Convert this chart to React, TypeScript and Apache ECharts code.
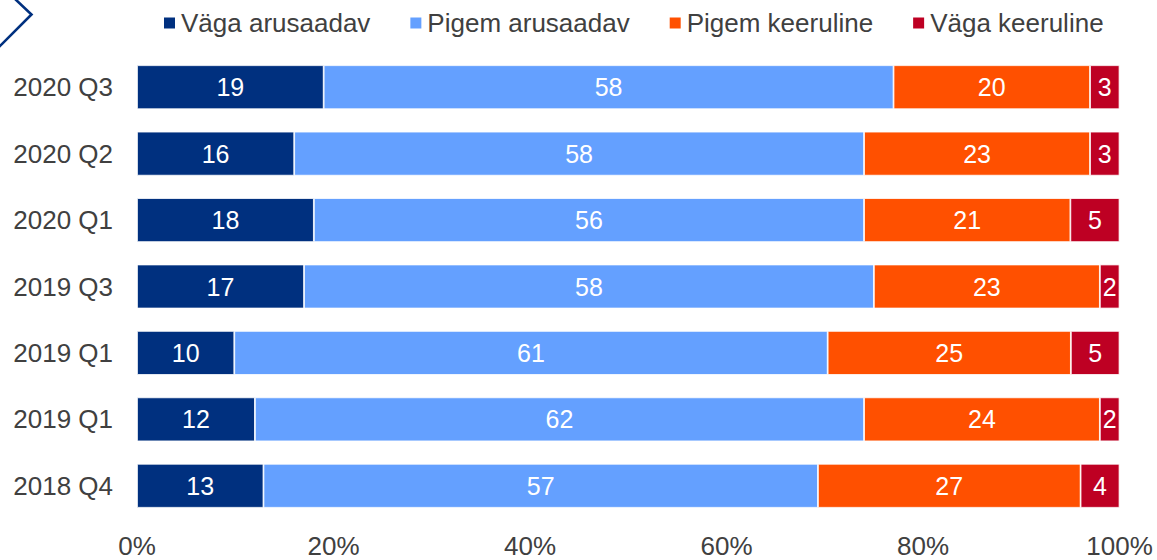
import React, { useEffect, useRef } from "react";
import * as echarts from "echarts";

const categories = ["2020 Q3", "2020 Q2", "2020 Q1", "2019 Q3", "2019 Q1", "2019 Q1", "2018 Q4"];
const seriesNames = ["Väga arusaadav", "Pigem arusaadav", "Pigem keeruline", "Väga keeruline"];
const vagaArusaadav = [19, 16, 18, 17, 10, 12, 13];
const pigemArusaadav = [58, 58, 56, 58, 61, 62, 57];
const pigemKeeruline = [20, 23, 21, 23, 25, 24, 27];
const vagaKeeruline = [3, 3, 5, 2, 5, 2, 4];
const xTicks = [0, 20, 40, 60, 80, 100];
const colors = ["#00307F", "#64A0FF", "#FF5000", "#BE0023"];

const FONT = "'Liberation Sans', Arial, sans-serif";

export default function App() {
  const ref = useRef<HTMLDivElement>(null);
  useEffect(() => {
    if (!ref.current) return;
    const chart = echarts.init(ref.current, undefined, { renderer: "svg" });
    const raw = [vagaArusaadav, pigemArusaadav, pigemKeeruline, vagaKeeruline];
    const totals = categories.map((_, i) => raw.reduce((s, arr) => s + arr[i], 0));
    const series = raw.map((arr, si) => ({
      name: seriesNames[si],
      type: "bar",
      stack: "total",
      barWidth: 44,
      itemStyle: { color: colors[si], borderColor: "#ffffff", borderWidth: 0.8 },
      label: {
        show: true,
        position: "inside",
        color: "#ffffff",
        fontSize: 25,
        fontFamily: FONT,
        formatter: (p: any) => String(arr[p.dataIndex]),
      },
      data: arr.map((v, i) => (v / totals[i]) * 100),
    }));
    chart.setOption({
      animation: false,
      textStyle: { fontFamily: FONT },
      legend: {
        data: seriesNames,
        left: 157,
        top: 5,
        icon: "rect",
        itemWidth: 13,
        itemHeight: 13,
        itemGap: 38,
        textStyle: { fontSize: 26, color: "#404040", fontFamily: FONT },
      },
      grid: { left: 137, right: 37.5, top: 54, bottom: 41, containLabel: false },
      xAxis: {
        type: "value",
        min: xTicks[0],
        max: xTicks[xTicks.length - 1],
        interval: 20,
        splitLine: { show: false },
        axisLine: { show: false },
        axisTick: { show: false },
        axisLabel: {
          formatter: "{value}%",
          fontSize: 26,
          color: "#404040",
          margin: 14,
          fontFamily: FONT,
        },
      },
      yAxis: {
        type: "category",
        inverse: true,
        data: categories,
        axisLine: { show: false },
        axisTick: { show: false },
        axisLabel: { fontSize: 26, color: "#404040", margin: 24, fontFamily: FONT },
      },
      graphic: [
        {
          type: "polyline",
          shape: { points: [[14, -2], [31.5, 14.5], [-2, 48]] },
          style: { stroke: "#00307F", lineWidth: 2.6, fill: "none" },
        },
      ],
      series,
    });
    return () => chart.dispose();
  }, []);
  return (
    <div
      ref={ref}
      style={{ position: "fixed", left: 0, top: 0, width: 1157, height: 560, background: "#fff" }}
    />
  );
}
